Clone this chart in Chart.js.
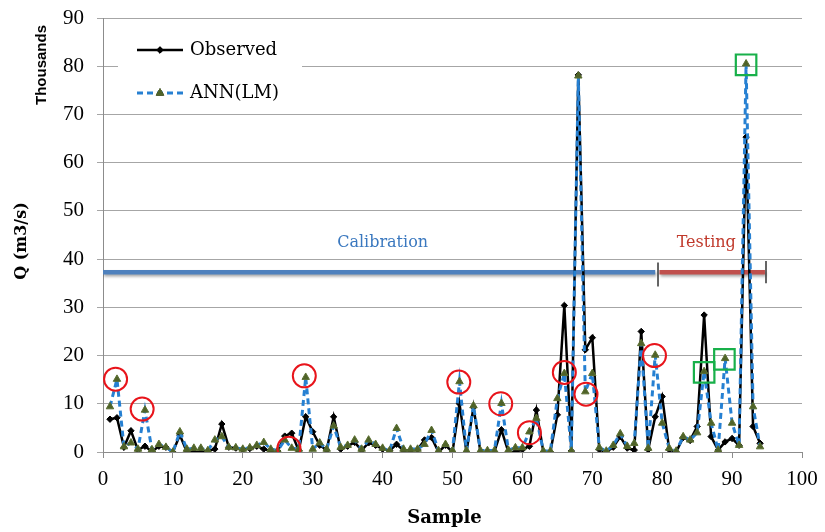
<!DOCTYPE html>
<html>
<head>
<meta charset="utf-8">
<script src="https://cdn.jsdelivr.net/npm/chart.js@4/dist/chart.umd.min.js"></script>
<style>
html,body{margin:0;padding:0;background:#fff;}
#wrap{width:825px;height:532px;position:relative;}
</style>
</head>
<body>
<div id="wrap"><canvas id="c" width="825" height="532"></canvas></div>
<script>
// ---- data ----
const samples = [1,2,3,4,5,6,7,8,9,10,11,12,13,14,15,16,17,18,19,20,21,22,23,24,25,26,27,28,29,30,31,32,33,34,35,36,37,38,39,40,41,42,43,44,45,46,47,48,49,50,51,52,53,54,55,56,57,58,59,60,61,62,63,64,65,66,67,68,69,70,71,72,73,74,75,76,77,78,79,80,81,82,83,84,85,86,87,88,89,90,91,92,93,94];
const observed = [6.8,7.1,1.0,4.4,0.4,1.2,0.1,1.2,1.0,0,3.5,0,0,0,0.2,0.6,5.8,1.0,0.8,0.5,0.7,1.2,0.6,0.2,0.2,3.3,3.9,0.3,7.3,4.2,1.4,0.4,7.3,0.6,1.2,2.0,0.4,1.9,1.4,0.6,0.3,1.6,0.3,0.3,0.5,2.5,3.0,0,1.4,0,10.0,0,9.3,0,0,0.1,4.6,0,0,0.5,1.2,8.7,0,0,7.7,30.4,0.2,78.2,21.2,23.7,0.5,0,1.0,3.2,0.8,0.4,25.0,0.5,7.3,11.5,0.5,0,3.0,2.4,5.3,28.4,3.2,0.4,2.1,2.8,1.4,65.3,5.3,1.8];
const annLM = [9.4,15.1,1.1,1.9,0.6,8.7,0.5,1.6,1.0,0,4.2,0.6,0.8,0.8,0.3,2.5,3.2,1.0,0.9,0.6,0.9,1.4,2.0,0.6,0.3,2.5,0.8,0.6,15.5,0.6,1.9,0.6,5.4,1.0,1.4,2.5,0.6,2.5,1.6,0.8,0.3,4.9,0.6,0.6,0.6,1.6,4.5,0.3,1.6,0.3,14.6,0.3,9.6,0.3,0.3,0.3,10.1,0.4,0.9,0.9,4.2,7.0,0.2,0.2,11.1,16.3,0.2,78.0,12.5,16.3,0.9,0.2,1.4,3.8,1.2,1.8,22.5,0.8,20.1,6.0,0.8,0.2,3.2,2.5,4.0,16.7,6.0,0.4,19.4,6.0,1.4,80.5,9.4,1.1];
const xTicks = [0,10,20,30,40,50,60,70,80,90,100];
const yTicks = [0,10,20,30,40,50,60,70,80,90];
// highlighted points (red circles, green squares)
const circleX = [1.8,5.6,26.6,28.8,50.9,56.9,61.0,66.0,69.1,78.9];
const circleY = [15.1,8.9,0.8,15.8,14.5,10.0,4.0,16.5,12.0,20.0];
const squareX = [86.0,88.9,92.0];
const squareY = [16.5,19.2,80.3];
// calibration / testing periods
const periodLevel = 37.3;
const calibrationSpan = [0, 79.0];
const testingSpan = [79.6, 94.7];
const periodMarks = [79.4, 94.85];
const periodLabels = ['Calibration','Testing'];
const periodLabelX = [40.0, 86.3];
const periodLabelY = 43.3;

const pts = (xs, ys) => xs.map((x,i)=>({x:x, y:ys[i]}));

const datasets = [
  {label:'Observed', data: pts(samples, observed), borderColor:'#000', backgroundColor:'#000', borderWidth:2.5,
   pointStyle:'rectRot', pointRadius:3.2, pointBorderWidth:1, pointBackgroundColor:'#000', pointBorderColor:'#000', order:3, tension:0},
  {label:'ANN(LM)', data: pts(samples, annLM), borderColor:'#2680d2', backgroundColor:'#4f6228', borderWidth:3, borderDash:[6,4],
   pointStyle:'triangle', pointRadius:4.3, pointBorderWidth:1, pointBackgroundColor:'#4f6228', pointBorderColor:'#5a6e30', order:2, tension:0},
  {label:'_cal', data:[{x:calibrationSpan[0],y:periodLevel},{x:calibrationSpan[1],y:periodLevel}], borderColor:'#4f81bd', borderWidth:4.5, pointRadius:0, order:5, shadow:true},
  {label:'_test', data:[{x:testingSpan[0],y:periodLevel},{x:testingSpan[1],y:periodLevel}], borderColor:'#c0504d', borderWidth:4.5, pointRadius:0, order:5, shadow:true},
  {label:'_m1', data:[{x:periodMarks[0],y:periodLevel+2},{x:periodMarks[0],y:periodLevel-3}], borderColor:'#333', borderWidth:1.5, pointRadius:0, order:4},
  {label:'_m2', data:[{x:periodMarks[1],y:periodLevel+2.3},{x:periodMarks[1],y:periodLevel-2.3}], borderColor:'#333', borderWidth:1.5, pointRadius:0, order:4},
  {label:'_circ', data: pts(circleX, circleY), showLine:false, pointStyle:'circle', pointRadius:11.5, pointBorderWidth:2,
   pointBorderColor:'#e8141b', pointBackgroundColor:'rgba(0,0,0,0)', order:0},
  {label:'_sq', data: pts(squareX, squareY), showLine:false, pointStyle:'rect', pointRadius:14.5, pointBorderWidth:2.2,
   pointBorderColor:'#18b04a', pointBackgroundColor:'rgba(0,0,0,0)', order:0}
];

const overlay = {
  id:'overlay',
  beforeDatasetDraw(chart, args){
    const ds = chart.data.datasets[args.index];
    if (ds.shadow){
      const ctx = chart.ctx; ctx.save();
      ctx.shadowColor='rgba(0,0,0,0.35)'; ctx.shadowOffsetX=1; ctx.shadowOffsetY=2; ctx.shadowBlur=3;
    }
  },
  afterDatasetDraw(chart, args){
    const ds = chart.data.datasets[args.index];
    if (ds.shadow) chart.ctx.restore();
  },
  afterDatasetsDraw(chart){
    const ctx = chart.ctx, xs = chart.scales.x, ys = chart.scales.y;
    ctx.save();
    // period labels
    ctx.font = '16px "DejaVu Serif"';
    ctx.textAlign='center'; ctx.textBaseline='middle';
    ctx.fillStyle='#3a78bf';
    ctx.fillText(periodLabels[0], xs.getPixelForValue(periodLabelX[0]), ys.getPixelForValue(periodLabelY));
    ctx.fillStyle='#c0392b';
    ctx.fillText(periodLabels[1], xs.getPixelForValue(periodLabelX[1]), ys.getPixelForValue(periodLabelY));

    // legend box
    ctx.fillStyle='#fff';
    ctx.fillRect(118, 27, 184, 85);
    const items = [chart.data.datasets[0], chart.data.datasets[1]];
    const ly = [50, 93];
    items.forEach((ds,i)=>{
      ctx.save();
      ctx.strokeStyle = ds.borderColor; ctx.lineWidth = ds.borderWidth;
      ctx.setLineDash(ds.borderDash || []);
      ctx.beginPath(); ctx.moveTo(137, ly[i]); ctx.lineTo(183, ly[i]); ctx.stroke();
      ctx.restore();
      Chart.helpers.drawPoint(ctx, {pointStyle: ds.pointStyle, radius: ds.pointRadius, borderWidth: 1}, 160, ly[i]);
      ctx.fillStyle = ds.pointBackgroundColor; ctx.strokeStyle = ds.pointBorderColor;
      ctx.fill(); ctx.stroke();
      ctx.fillStyle='#000';
      ctx.font='18px "DejaVu Serif"';
      ctx.textAlign='left'; ctx.textBaseline='middle';
      ctx.fillText(ds.label, 190, ly[i]);
    });

    // axis titles
    ctx.fillStyle='#000';
    ctx.font='bold 18px "DejaVu Serif"';
    ctx.textAlign='center'; ctx.textBaseline='middle';
    ctx.fillText('Sample', (chart.chartArea.left+chart.chartArea.right)/2 - 8, 518);
    ctx.save();
    ctx.translate(22, 241); ctx.rotate(-Math.PI/2);
    ctx.font='bold 16px "DejaVu Serif"';
    ctx.fillText('Q (m3/s)', 0, 0);
    ctx.restore();
    ctx.save();
    ctx.translate(42, 65); ctx.rotate(-Math.PI/2);
    ctx.font='bold 15px "Liberation Sans Narrow", "Liberation Sans"';
    ctx.fillText('Thousands', 0, 0);
    ctx.restore();
    ctx.restore();
  }
};

new Chart(document.getElementById('c'), {
  type:'line',
  data:{datasets},
  options:{
    responsive:false, animation:false,
    layout:{padding:{left:0, right:23, top:18, bottom:0}},
    plugins:{legend:{display:false}, tooltip:{enabled:false}},
    scales:{
      x:{type:'linear', min:0, max:100,
        afterBuildTicks(s){ s.ticks = xTicks.map(v=>({value:v})); },
        afterFit(s){ s.height = 80; s.paddingLeft = 0; s.paddingRight = 0; },
        grid:{drawOnChartArea:false, drawTicks:true, tickLength:6, color:'#8c8c8c'},
        border:{color:'#8c8c8c', width:1},
        ticks:{font:{family:'"Liberation Serif"', size:21}, color:'#000', padding:9, maxRotation:0}
      },
      y:{type:'linear', min:0, max:90,
        afterBuildTicks(s){ s.ticks = yTicks.map(v=>({value:v})); },
        afterFit(s){ s.width = 103; s.paddingTop = 0; s.paddingBottom = 0; },
        grid:{drawOnChartArea:true, drawTicks:true, tickLength:6, color:'#a6a6a6', lineWidth:1},
        border:{color:'#8c8c8c', width:1},
        ticks:{font:{family:'"Liberation Serif"', size:21}, color:'#000', padding:13}
      }
    }
  },
  plugins:[overlay]
});
</script>
</body>
</html>
